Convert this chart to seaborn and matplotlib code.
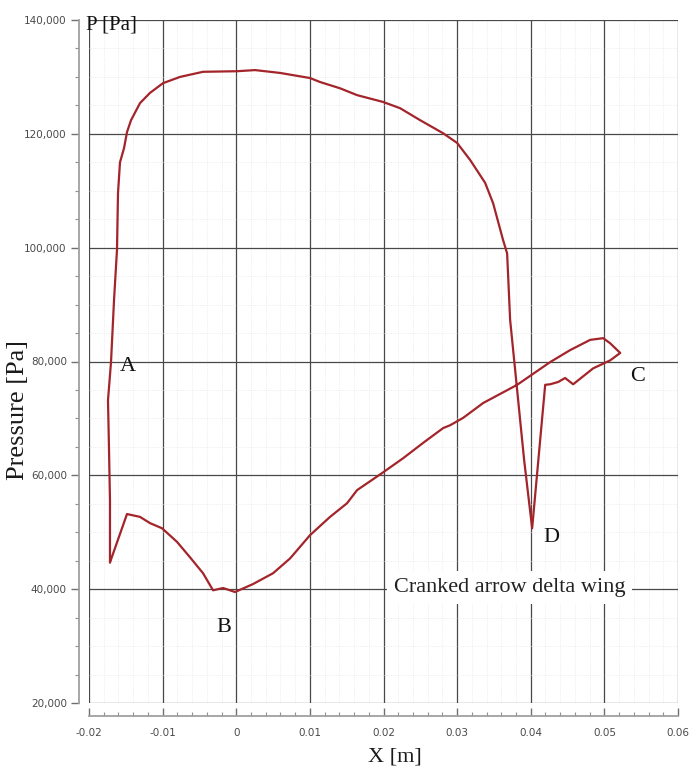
import matplotlib
matplotlib.use("Agg")
import matplotlib.pyplot as plt
from matplotlib.ticker import MultipleLocator, FuncFormatter
import numpy as np
import pandas as pd
import seaborn as sns

# Static pressure around the wing section, traced as one closed loop
x_m = [-0.01715, -0.01715, -0.01728, -0.01742, -0.01701, -0.01660, -0.01620,
       -0.01606, -0.01579, -0.01524, -0.01484, -0.01429, -0.01307, -0.01171,
       -0.00995, -0.00764, -0.00451, 0.00011, 0.00255, 0.00595, 0.01003,
       0.01139, 0.01410, 0.01641, 0.01995, 0.02226, 0.02497, 0.02810,
       0.03000, 0.03177, 0.03380, 0.03489, 0.03625, 0.03679, 0.03720,
       0.03802, 0.03910, 0.04019, 0.04196, 0.04264, 0.04372, 0.04467,
       0.04576, 0.04848, 0.05079, 0.05215, 0.05079, 0.04984, 0.04807,
       0.04535, 0.04264, 0.03815, 0.03353, 0.03082, 0.02905, 0.02810,
       0.02538, 0.02266, 0.01981, 0.01641, 0.01505, 0.01274, 0.01003,
       0.00731, 0.00500, 0.00228, -0.00016, -0.00179, -0.00315, -0.00451,
       -0.00628, -0.00804, -0.01008, -0.01171, -0.01307, -0.01484, -0.01715]
p_pa = [44700, 55600, 64400, 73200, 79900, 90800, 99600,
        109600, 115000, 117500, 120300, 122400, 125400, 127200,
        128900, 130000, 130900, 131000, 131200, 130700, 129800,
        129100, 128000, 126800, 125600, 124500, 122400, 120100,
        118400, 115400, 111400, 107800, 101300, 99000, 87300,
        76700, 62700, 50700, 75900, 76000, 76400, 77100,
        76000, 78800, 80200, 81500, 83200, 84100, 83800,
        82000, 79900, 75900, 72700, 70100, 68800, 68300,
        65700, 63000, 60400, 57400, 55100, 52700, 49500,
        45400, 42800, 40900, 39500, 40200, 39800, 42800,
        45600, 48300, 50700, 51600, 52700, 53200, 44700]

point_labels = ["A", "B", "C", "D"]
label_x = [-0.0147, -0.0017, 0.0545, 0.0428]
label_p = [79200, 33300, 77400, 49000]

x_ticks = [-0.02, -0.01, 0, 0.01, 0.02, 0.03, 0.04, 0.05, 0.06]
p_ticks = [20000, 40000, 60000, 80000, 100000, 120000, 140000]

df = pd.DataFrame({"x": x_m, "p": p_pa, "order": np.arange(len(x_m))})

sns.set_style("white")
serif = ["Liberation Serif", "DejaVu Serif"]

fig = plt.figure(figsize=(6.91, 7.77), dpi=100)
ax = fig.add_axes([89 / 691, 1 - 703 / 777, 589 / 691, 683 / 777])

sns.lineplot(data=df, x="x", y="p", sort=False, estimator=None,
             color="#a3242a", linewidth=1.6, ax=ax, zorder=5)

ax.set_xlim(x_ticks[0], x_ticks[-1])
ax.set_ylim(p_ticks[0], p_ticks[-1])
ax.set_xticks(x_ticks)
ax.set_yticks(p_ticks)
ax.xaxis.set_minor_locator(MultipleLocator(0.002))
ax.yaxis.set_minor_locator(MultipleLocator(5000))
ax.xaxis.set_major_formatter(FuncFormatter(lambda v, _: f"{v:g}"))
ax.yaxis.set_major_formatter(FuncFormatter(lambda v, _: f"{int(v):,}"))

ax.grid(which="major", color="#484848", linewidth=0.9)
ax.grid(which="minor", color="#e2e2e2", linewidth=0.5, linestyle=":")
ax.set_axisbelow(True)

for side in ("top", "right"):
    ax.spines[side].set_visible(False)
ax.spines["left"].set_position(("outward", 7))
ax.spines["bottom"].set_position(("outward", 9))
for side in ("left", "bottom"):
    ax.spines[side].set_color("#a0a0a0")
    ax.spines[side].set_linewidth(1.3)

ax.tick_params(axis="y", which="major", direction="out", length=6, width=1,
               color="#707070", pad=3, labelsize=7.5, labelcolor="#4a4a4a")
ax.tick_params(axis="y", which="minor", direction="out", length=3, width=0.8,
               color="#909090")
ax.tick_params(axis="x", which="major", direction="in", length=6, width=1,
               color="#707070", pad=9, labelsize=7.5, labelcolor="#4a4a4a")
ax.tick_params(axis="x", which="minor", direction="in", length=3, width=0.8,
               color="#909090")
ax.tick_params(left=True, bottom=True, which="both")

ax.set_xlabel("X [m]", family=serif, fontsize=16, color="#1a1a1a")
ax.xaxis.set_label_coords(0.52, -0.079)
ax.xaxis.label.set_va("center")
ax.set_ylabel("Pressure [Pa]", family=serif, fontsize=19, color="#1a1a1a")
ax.yaxis.set_label_coords(-0.121, 0.429)
ax.yaxis.label.set_va("center")

ax.text(-0.005, 0.9927, "P [Pa]", transform=ax.transAxes, family=serif,
        fontsize=15, color="#111111", ha="left", va="center")

for name, lx, lp in zip(point_labels, label_x, label_p):
    ax.text(lx, lp, name, family=serif, fontsize=16, color="#111111",
            ha="center", va="center", zorder=6)

ax.text(0.0371, 40300, "Cranked arrow delta wing", family=serif, fontsize=16,
        color="#222222", ha="center", va="center", zorder=4,
        bbox=dict(boxstyle="square,pad=0.3", facecolor="white",
                  edgecolor="none"))

fig.savefig("out.png", dpi=100, facecolor="white")
